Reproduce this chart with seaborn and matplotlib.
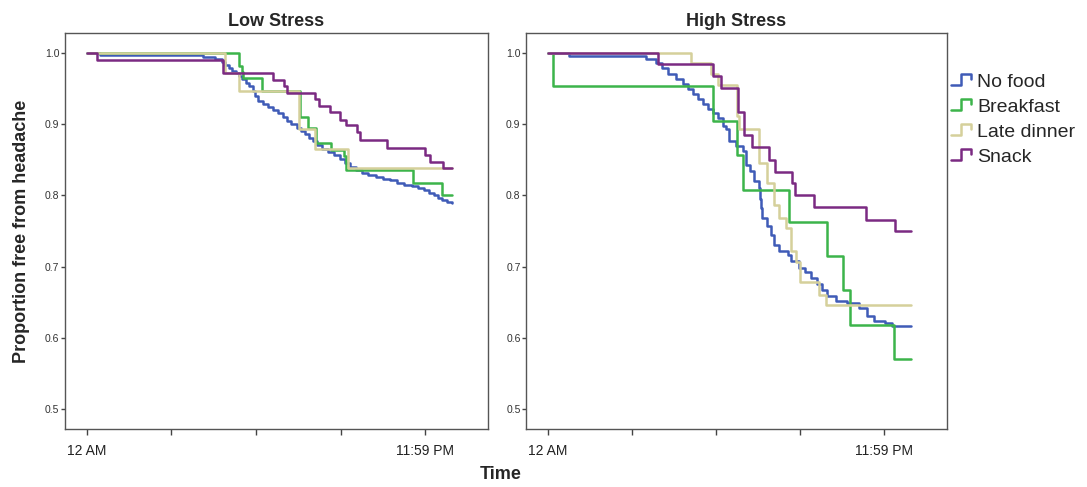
import pandas as pd
import matplotlib
matplotlib.use("Agg")
import matplotlib.pyplot as plt
import seaborn as sns
from matplotlib.lines import Line2D
from matplotlib.legend_handler import HandlerBase

# time is in tick units: 0 = 12 AM, 4 = 11:59 PM
groups = ["No food", "Breakfast", "Late dinner", "Snack"]
colors = {"No food": "#3f5bb7", "Breakfast": "#3cb44a",
          "Late dinner": "#d5d09b", "Snack": "#7b2a82"}

# Low stress
low_nofood_t = [0, 0.16, 1.38, 1.52, 1.60, 1.64, 1.68, 1.72, 1.76, 1.80, 1.84, 1.88, 1.92, 1.96,
                1.99, 2.03, 2.08, 2.14, 2.20, 2.26, 2.32, 2.37, 2.42, 2.48, 2.53, 2.58, 2.63,
                2.68, 2.72, 2.78, 2.85, 2.92, 2.99, 3.05, 3.11, 3.18, 3.25, 3.33, 3.42, 3.50,
                3.59, 3.67, 3.75, 3.84, 3.92, 3.98, 4.04, 4.10, 4.15, 4.20, 4.26, 4.32]
low_nofood_s = [1.0, 0.997, 0.994, 0.991, 0.987, 0.983, 0.979, 0.975, 0.971, 0.967, 0.963, 0.958,
                0.953, 0.947, 0.939, 0.932, 0.928, 0.924, 0.920, 0.915, 0.910, 0.905, 0.900,
                0.895, 0.890, 0.886, 0.881, 0.876, 0.870, 0.865, 0.861, 0.856, 0.851, 0.846,
                0.840, 0.836, 0.832, 0.829, 0.826, 0.823, 0.821, 0.818, 0.815, 0.813, 0.810,
                0.807, 0.804, 0.800, 0.797, 0.794, 0.791, 0.789]
low_breakfast_t = [0, 1.805, 1.833, 1.852, 2.069, 2.522, 2.613, 2.711, 2.885, 3.042, 3.066,
                   3.854, 4.197, 4.315]
low_breakfast_s = [1.0, 0.982, 0.973, 0.965, 0.947, 0.910, 0.894, 0.873, 0.864, 0.855, 0.836,
                   0.818, 0.800, 0.800]
low_dinner_t = [0, 1.63, 1.80, 2.515, 2.70, 3.09, 4.32]
low_dinner_s = [1.0, 0.972, 0.946, 0.893, 0.865, 0.838, 0.838]
low_snack_t = [0, 0.118, 1.615, 2.206, 2.33, 2.37, 2.70, 2.74, 2.877, 2.99, 3.06, 3.19, 3.23,
               3.55, 4.0, 4.058, 4.215, 4.32]
low_snack_s = [1.0, 0.990, 0.972, 0.962, 0.953, 0.944, 0.935, 0.926, 0.917, 0.906, 0.898,
               0.889, 0.878, 0.867, 0.857, 0.847, 0.838, 0.838]

# High stress
high_nofood_t = [0, 0.26, 1.17, 1.29, 1.36, 1.43, 1.53, 1.61, 1.67, 1.73, 1.79, 1.84, 1.90,
                 1.96, 2.02, 2.08, 2.12, 2.16, 2.24, 2.32, 2.36, 2.40, 2.455, 2.51, 2.52, 2.53,
                 2.55, 2.61, 2.65, 2.69, 2.75, 2.85, 2.89, 2.99, 3.06, 3.125, 3.20, 3.26, 3.32,
                 3.42, 3.56, 3.70, 3.79, 3.87, 4.01, 4.09, 4.31]
high_nofood_s = [1.0, 0.995, 0.991, 0.986, 0.978, 0.970, 0.963, 0.956, 0.949, 0.942, 0.935,
                 0.928, 0.921, 0.916, 0.909, 0.897, 0.893, 0.876, 0.869, 0.862, 0.843, 0.834,
                 0.820, 0.811, 0.795, 0.783, 0.769, 0.757, 0.745, 0.731, 0.722, 0.717, 0.708,
                 0.698, 0.692, 0.684, 0.676, 0.668, 0.659, 0.652, 0.649, 0.642, 0.631, 0.624,
                 0.621, 0.617, 0.617]
high_breakfast_t = [0, 0.064, 1.97, 2.246, 2.325, 2.87, 3.32, 3.507, 3.586, 4.11, 4.31]
high_breakfast_s = [1.0, 0.953, 0.905, 0.857, 0.808, 0.763, 0.715, 0.667, 0.619, 0.571, 0.571]
high_dinner_t = [0, 1.707, 1.943, 2.02, 2.246, 2.278, 2.514, 2.61, 2.69, 2.75, 2.83, 2.89,
                 2.95, 2.995, 3.224, 3.30, 4.31]
high_dinner_s = [1.0, 0.986, 0.970, 0.955, 0.911, 0.893, 0.846, 0.817, 0.787, 0.769, 0.755,
                 0.722, 0.706, 0.679, 0.661, 0.646, 0.646]
high_snack_t = [0, 1.312, 1.962, 2.06, 2.26, 2.33, 2.43, 2.625, 2.703, 2.908, 2.94, 3.164,
                3.783, 4.13, 4.315]
high_snack_s = [1.0, 0.984, 0.967, 0.951, 0.917, 0.884, 0.868, 0.850, 0.833, 0.817, 0.801,
                0.784, 0.766, 0.750, 0.750]

curves = {
    "Low Stress": {"No food": (low_nofood_t, low_nofood_s),
                   "Breakfast": (low_breakfast_t, low_breakfast_s),
                   "Late dinner": (low_dinner_t, low_dinner_s),
                   "Snack": (low_snack_t, low_snack_s)},
    "High Stress": {"No food": (high_nofood_t, high_nofood_s),
                    "Breakfast": (high_breakfast_t, high_breakfast_s),
                    "Late dinner": (high_dinner_t, high_dinner_s),
                    "Snack": (high_snack_t, high_snack_s)},
}

rows = []
for stress, d in curves.items():
    for g in groups:
        t, s = d[g]
        for ti, si in zip(t, s):
            rows.append({"stress": stress, "group": g, "time": ti, "surv": si})
df = pd.DataFrame(rows)

sns.set_style("white")
plt.rcParams['font.family'] = ['Liberation Sans', 'DejaVu Sans']

fig = plt.figure(figsize=(10.87, 4.87), dpi=100)
ax1 = fig.add_axes([0.0598, 0.119, 0.389, 0.813])
ax2 = fig.add_axes([0.484, 0.119, 0.387, 0.813])

for ax, stress in [(ax1, "Low Stress"), (ax2, "High Stress")]:
    sub = df[df["stress"] == stress]
    sns.lineplot(data=sub, x="time", y="surv", hue="group", hue_order=groups,
                 palette=colors, estimator=None, sort=False, drawstyle="steps-post",
                 linewidth=1.8, legend=False, ax=ax)
    ax.set_xlim(-0.255, 4.74)
    ax.set_ylim(0.4725, 1.0275)
    ax.set_xticks([0, 1, 2, 3, 4])
    ax.set_xticklabels(["12 AM", "", "", "", "11:59 PM"], fontsize=10, color="#222222")
    ax.set_yticks([0.5, 0.6, 0.7, 0.8, 0.9, 1.0])
    ax.set_yticklabels(["0.5", "0.6", "0.7", "0.8", "0.9", "1.0"], fontsize=7.5, color="#333333")
    ax.tick_params(axis="x", direction="out", length=4.5, width=1, color="#444444", pad=6,
                   bottom=True)
    ax.tick_params(axis="y", direction="out", length=3, width=1, color="#444444", pad=1,
                   left=True)
    ax.set_xlabel("")
    ax.set_ylabel("")
    for sp in ax.spines.values():
        sp.set_color("#555555")
        sp.set_linewidth(1.0)
    ax.set_title(stress, fontsize=13, fontweight="bold", pad=5)

fig.text(0.020, 0.525, "Proportion free from headache", rotation=90, ha="center",
         va="center", fontsize=13, fontweight="bold")
fig.text(0.461, 0.025, "Time", ha="center", va="center", fontsize=13, fontweight="bold")


class StepHandler(HandlerBase):
    def create_artists(self, legend, orig_handle, xdescent, ydescent, width, height,
                       fontsize, trans):
        x0, y0 = -xdescent, -ydescent
        xs = [x0, x0 + 0.45 * width, x0 + 0.45 * width, x0 + 0.95 * width, x0 + 0.95 * width]
        ys = [y0 + 0.15 * height, y0 + 0.15 * height, y0 + 0.9 * height, y0 + 0.9 * height,
              y0 + 0.55 * height]
        line = Line2D(xs, ys, color=orig_handle.get_color(), linewidth=1.8, transform=trans)
        return [line]


handles = [Line2D([], [], color=colors[g]) for g in groups]
fig.legend(handles, groups, loc="upper left", bbox_to_anchor=(0.875, 0.85),
           frameon=False, fontsize=14, handlelength=1.1, handletextpad=0.25,
           labelspacing=0.38, borderpad=0, borderaxespad=0,
           handler_map={Line2D: StepHandler()})

fig.savefig("out.png", dpi=100)
